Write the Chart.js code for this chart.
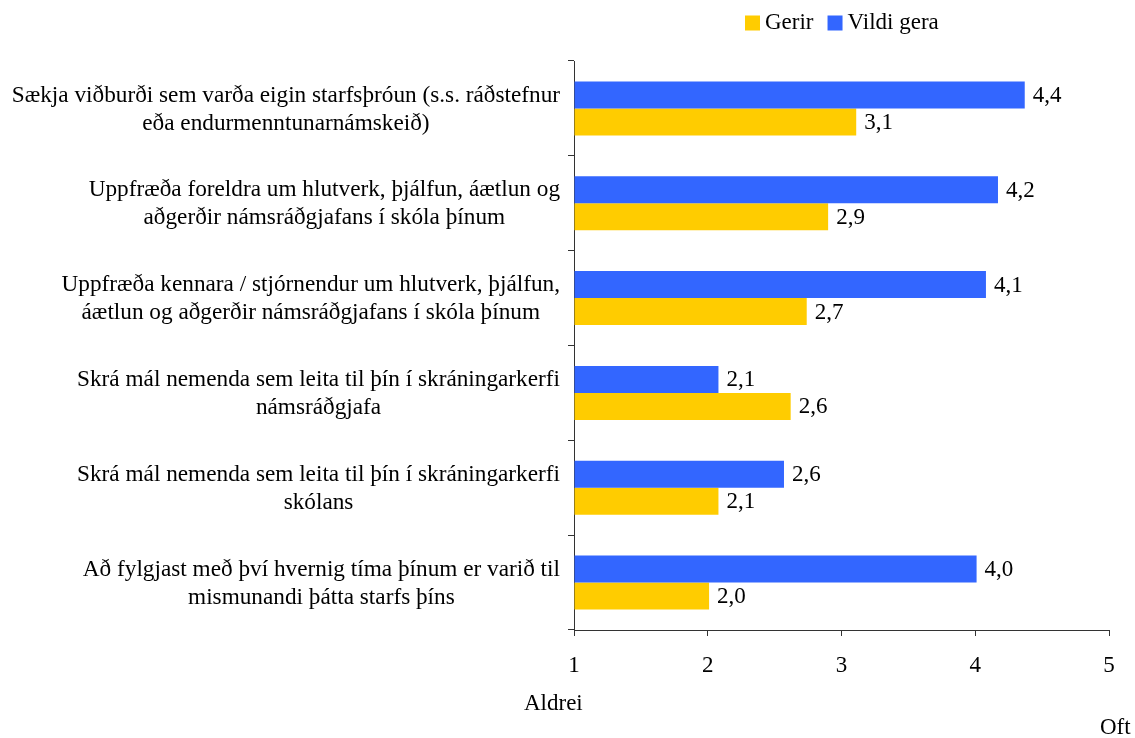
<!DOCTYPE html>
<html>
<head>
<meta charset="utf-8">
<script src="https://cdn.jsdelivr.net/npm/chart.js@4/dist/chart.umd.min.js"></script>
<style>
  html, body { margin: 0; padding: 0; background: #fff; }
  #wrap { width: 1135px; height: 738px; position: relative; }
</style>
</head>
<body>
<div id="wrap"><canvas id="chart" width="1135" height="738"></canvas></div>
<script>
// gögn lesin af myndinni (súlulengdir mældar, merkingar námundaðar)
const categories = [
  ['Sækja viðburði sem varða eigin starfsþróun (s.s. ráðstefnur', 'eða endurmenntunarnámskeið)'],
  ['Uppfræða foreldra um hlutverk, þjálfun, áætlun og', 'aðgerðir námsráðgjafans í skóla þínum'],
  ['Uppfræða kennara / stjórnendur um hlutverk, þjálfun,', 'áætlun og aðgerðir námsráðgjafans í skóla þínum'],
  ['Skrá mál nemenda sem leita til þín í skráningarkerfi', 'námsráðgjafa'],
  ['Skrá mál nemenda sem leita til þín í skráningarkerfi', 'skólans'],
  ['Að fylgjast með því hvernig tíma þínum er varið til', 'mismunandi þátta starfs þíns']
];
const vildiGera = [4.37, 4.17, 4.08, 2.08, 2.57, 4.01];
const gerir = [3.11, 2.90, 2.74, 2.62, 2.08, 2.01];
const xTicks = [1, 2, 3, 4, 5];

const FONT = '"Liberation Serif", "Times New Roman", serif';
const BLUE = '#3366FF';
const YELLOW = '#FFCC00';
const AXIS = '#333333';

const fmt = v => v.toFixed(1).replace('.', ',');

// teiknar flokkaheiti, gildi við súlur, skýringar og ásaheiti
const extras = {
  id: 'extras',
  afterDraw(chart) {
    const ctx = chart.ctx;
    const yScale = chart.scales.y;
    ctx.save();
    ctx.fillStyle = '#000';
    ctx.textBaseline = 'middle';

    // flokkaheiti: blokk hægrijöfnuð, hver lína miðjuð
    ctx.font = '23.25px ' + FONT;
    const rightEdge = 560;
    const lineH = 28;
    categories.forEach((lines, i) => {
      const cy = yScale.getPixelForValue(i) + 1;
      const w = Math.max(...lines.map(l => ctx.measureText(l).width));
      const cx = rightEdge - w / 2;
      ctx.textAlign = 'center';
      lines.forEach((l, j) => {
        ctx.fillText(l, cx, cy + (j - (lines.length - 1) / 2) * lineH);
      });
    });

    // gildi við enda súlna
    ctx.font = '23px ' + FONT;
    ctx.textAlign = 'left';
    chart.data.datasets.forEach((ds, di) => {
      chart.getDatasetMeta(di).data.forEach((bar, i) => {
        ctx.fillText(fmt(ds.data[i]), bar.x + 8, bar.y + 1);
      });
    });

    // skýringar
    const legendItems = [
      { text: 'Gerir', color: YELLOW },
      { text: 'Vildi gera', color: BLUE }
    ];
    let lx = 745;
    const ly = 23;
    legendItems.forEach(it => {
      ctx.fillStyle = it.color;
      ctx.fillRect(lx, ly - 7.5, 15, 15);
      ctx.fillStyle = '#000';
      ctx.fillText(it.text, lx + 20, ly);
      lx += 20 + ctx.measureText(it.text).width + 14;
    });

    // ásaheiti
    ctx.fillText('Aldrei', 524, 704);
    ctx.fillText('Oft', 1100, 728);
    ctx.restore();
  }
};

new Chart(document.getElementById('chart'), {
  type: 'bar',
  data: {
    labels: categories,
    datasets: [
      { label: 'Vildi gera', data: vildiGera, backgroundColor: BLUE, base: 1 },
      { label: 'Gerir', data: gerir, backgroundColor: YELLOW, base: 1 }
    ]
  },
  options: {
    indexAxis: 'y',
    responsive: false,
    animation: false,
    devicePixelRatio: 1,
    datasets: { bar: { categoryPercentage: 0.57, barPercentage: 1.0 } },
    layout: { padding: { top: 61, right: 26, bottom: 0, left: 0 } },
    plugins: {
      legend: { display: false },
      tooltip: { enabled: false }
    },
    scales: {
      x: {
        min: 1,
        max: 5,
        afterBuildTicks(scale) { scale.ticks = xTicks.map(v => ({ value: v })); },
        border: { color: AXIS, width: 1 },
        grid: { drawOnChartArea: false, drawTicks: true, tickLength: 6, color: AXIS },
        ticks: {
          color: '#000',
          font: { family: FONT, size: 23 },
          padding: 16
        },
        afterFit(scale) { scale.height = 108; }
      },
      y: {
        border: { color: AXIS, width: 1 },
        grid: { drawOnChartArea: false, drawTicks: true, tickLength: 6, color: AXIS, offset: true },
        ticks: { display: false },
        afterFit(scale) { scale.width = 574; }
      }
    }
  },
  plugins: [extras]
});
</script>
</body>
</html>
